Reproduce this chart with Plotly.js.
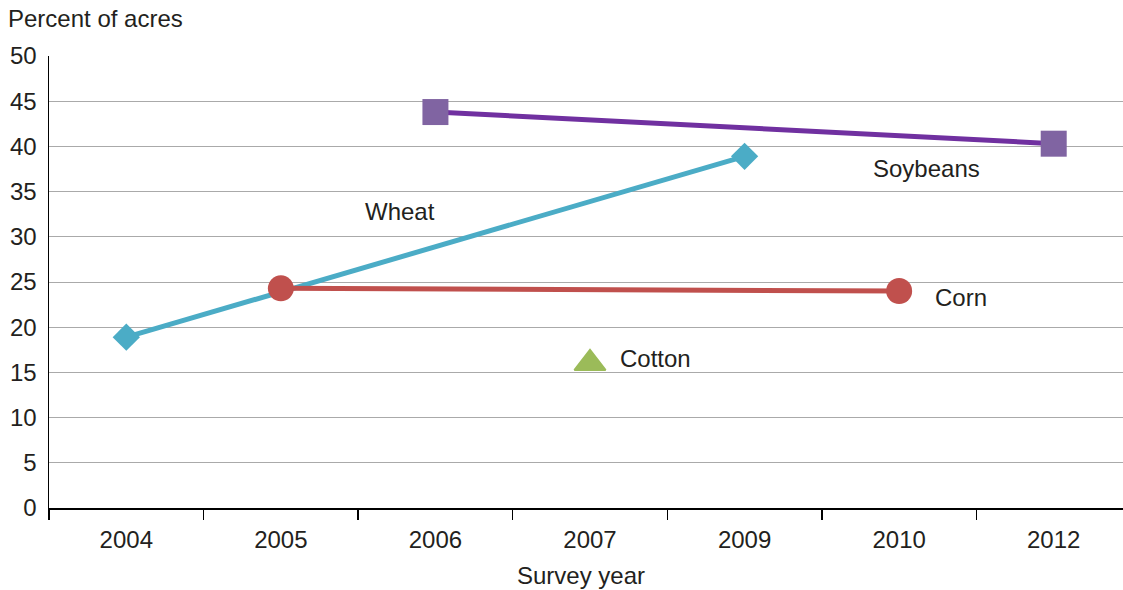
<!DOCTYPE html>
<html>
<head>
<meta charset="utf-8">
<script src="https://cdn.plot.ly/plotly-3.0.1.min.js"></script>
<style>html,body{margin:0;padding:0;background:#fff;overflow:hidden;width:1123px;height:590px;}#chart{width:1132px;height:590px;}</style>
</head>
<body>
<div id="chart"></div>
<script>
const categories = ["2004","2005","2006","2007","2009","2010","2012"];
const wheatYears = ["2004","2009"];
const wheatValues = [18.9, 38.9];
const cornYears = ["2005","2010"];
const cornValues = [24.3, 24.0];
const soyYears = ["2006","2012"];
const soyValues = [43.8, 40.3];
const cottonYears = ["2007"];
const cottonValues = [16.0];
const yTicks = [0,5,10,15,20,25,30,35,40,45,50];

const FONT = "Liberation Sans, Arial, sans-serif";
const TXT = "#231f20";
const FS = 24;

const traces = [
  {x: soyYears, y: soyValues, type: "scatter", mode: "lines+markers", name: "Soybeans",
   line: {color: "#7030A0", width: 5}, marker: {symbol: "square", size: 26, color: "#8064A2"}},
  {x: wheatYears, y: wheatValues, type: "scatter", mode: "lines+markers", name: "Wheat",
   line: {color: "#4BACC6", width: 5}, marker: {symbol: "diamond", size: 21, color: "#4BACC6"}},
  {x: cornYears, y: cornValues, type: "scatter", mode: "lines+markers", name: "Corn",
   line: {color: "#C0504D", width: 5}, marker: {symbol: "circle", size: 26, color: "#C0504D"}},
  {x: cottonYears, y: cottonValues, type: "scatter", mode: "markers", name: "Cotton",
   marker: {symbol: "triangle-up", size: 27, color: "#9BBB59", line: {color: "#9BBB59", width: 2}}}
];

const layout = {
  width: 1132, height: 590,
  margin: {l: 49, r: 1, t: 56, b: 82},
  paper_bgcolor: "#fff", plot_bgcolor: "#fff",
  showlegend: false,
  font: {family: FONT, size: FS, color: TXT},
  xaxis: {
    type: "category", categoryorder: "array", categoryarray: categories,
    tickvals: categories, ticktext: categories,
    range: [-0.5, 6.5],
    tickson: "boundaries", ticks: "outside", ticklen: 10, tickwidth: 1.3, tickcolor: "#000",
    ticklabelstandoff: 10,
    showline: true, linecolor: "#000", linewidth: 1.5,
    showgrid: false, zeroline: false,
    tickfont: {family: FONT, size: FS, color: TXT}
  },
  yaxis: {
    range: [0, 50], tickvals: yTicks, ticktext: yTicks.map(String),
    showgrid: true, gridcolor: "#aaaaaa", gridwidth: 1,
    showline: true, linecolor: "#000", linewidth: 1.5,
    zeroline: false, ticks: "", ticklabelstandoff: 6,
    tickfont: {family: FONT, size: FS, color: TXT}
  },
  annotations: [
    {xref: "paper", yref: "paper", x: 0, y: 1, xshift: -43, yshift: 38, xanchor: "left", yanchor: "middle",
     text: "Percent of acres", showarrow: false, font: {family: FONT, size: FS, color: TXT}},
    {xref: "paper", yref: "paper", x: 0.5, y: 0, xshift: -9, yshift: -67, xanchor: "center", yanchor: "middle",
     text: "Survey year", showarrow: false, font: {family: FONT, size: FS, color: TXT}},
    {x: 1.53, y: 32.8, xref: "x", yref: "y", text: "Wheat", showarrow: false, xanchor: "left", yanchor: "middle"},
    {x: 4.82, y: 37.6, xref: "x", yref: "y", text: "Soybeans", showarrow: false, xanchor: "left", yanchor: "middle"},
    {x: 5.22, y: 23.3, xref: "x", yref: "y", text: "Corn", showarrow: false, xanchor: "left", yanchor: "middle"},
    {x: 3.18, y: 16.5, xref: "x", yref: "y", text: "Cotton", showarrow: false, xanchor: "left", yanchor: "middle"}
  ]
};

Plotly.newPlot("chart", traces, layout, {displayModeBar: false, staticPlot: true});
</script>
</body>
</html>
